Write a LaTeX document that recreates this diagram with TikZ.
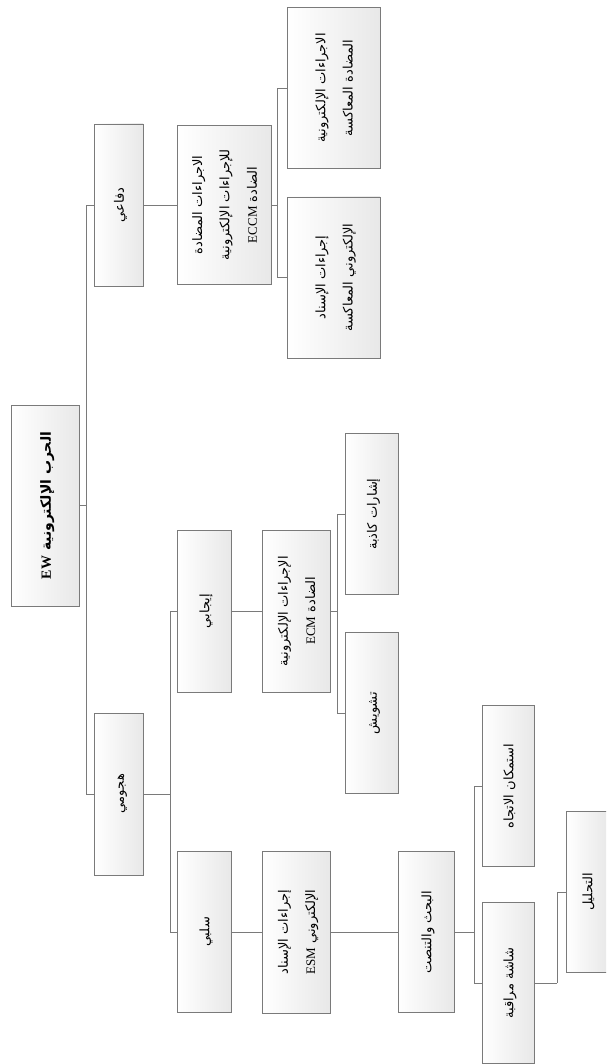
\documentclass[tikz,border=0pt]{standalone}
\usepackage{fontspec}
\usepackage{graphicx}
\usepackage{tikz}
\usetikzlibrary{positioning}
\TeXXeTstate=1
\newfontfamily\arabicfont[Script=Arabic]{DejaVu Sans}
\newfontfamily\latinfont{Liberation Serif}
\definecolor{bordo}{RGB}{122,122,122}
\definecolor{sfondo}{RGB}{232,232,232}
\renewcommand{\arraystretch}{1.75}
\newcommand{\ar}[1]{{\arabicfont\beginR #1\endR}}
\newcommand{\lat}[1]{\beginL{\latinfont #1}\endL}
\newcommand{\colonna}[1]{\rotatebox{90}{\begin{tabular}{@{}c@{}}#1\end{tabular}}}

\begin{document}
\begin{tikzpicture}[x=1pt, y=-1pt,
	box/.style={rectangle, draw=bordo, line width=0.9pt, left color=white, right color=sfondo, inner sep=0pt, font=\fontsize{13}{15.6}\selectfont},
	conn/.style={draw=bordo, line width=0.9pt}]
	\useasboundingbox (0,0) rectangle (606,1064);
	\clip (0,0) rectangle (606,1064);

	% Radice
	\node[box, minimum width=68, minimum height=201, font=\fontsize{14}{16.8}\selectfont\bfseries] (radice) at (45,505.5) {\colonna{\ar{الحرب الإلكترونية \lat{EW}}}};

	% Primo livello
	\node[box, minimum width=49, minimum height=162] (difensivo) at (118.5,205) {\colonna{\ar{دفاعي}}};
	\node[box, minimum width=49, minimum height=162] (offensivo) at (118.5,794) {\colonna{\ar{هجومي}}};

	% Ramo difensivo
	\node[box, minimum width=94, minimum height=159] (eccm) at (224,205) {\colonna{\ar{الاجراءات المضادة}\\ \ar{للإجراءات الإلكترونية}\\ \ar{الضادة \lat{ECCM}}}};
	\node[box, minimum width=93, minimum height=161] (contrasto) at (333.5,88) {\colonna{\ar{الاجراءات الإلكترونية}\\ \ar{المضادة المعاكسة}}};
	\node[box, minimum width=93, minimum height=161] (supporto) at (333.5,277.5) {\colonna{\ar{إجراءات الإسناد}\\ \ar{الإلكتروني المعاكسة}}};

	% Ramo offensivo
	\node[box, minimum width=54, minimum height=162] (attivo) at (204,611) {\colonna{\ar{إيجابي}}};
	\node[box, minimum width=54, minimum height=161] (passivo) at (204,932) {\colonna{\ar{سلبي}}};
	\node[box, minimum width=68, minimum height=162] (ecm) at (296,611) {\colonna{\ar{الإجراءات الإلكترونية}\\ \ar{الضادة \lat{ECM}}}};
	\node[box, minimum width=53, minimum height=161] (falsi) at (371.5,514) {\colonna{\ar{إشارات كاذبة}}};
	\node[box, minimum width=53, minimum height=161] (disturbo) at (371.5,713) {\colonna{\ar{تشويش}}};
	\node[box, minimum width=68, minimum height=162] (esm) at (296,932) {\colonna{\ar{إجراءات الإسناد}\\ \ar{الإلكتروني \lat{ESM}}}};
	\node[box, minimum width=56, minimum height=161] (ricerca) at (426,932) {\colonna{\ar{البحث والتنصت}}};
	\node[box, minimum width=52, minimum height=161] (direzione) at (508,786) {\colonna{\ar{استمكان الاتجاه}}};
	\node[box, minimum width=52, minimum height=161] (schermo) at (508,983) {\colonna{\ar{شاشة مراقبة}}};
	\node[box, minimum width=42, minimum height=161] (analisi) at (587,892) {\colonna{\ar{التحليل}}};

	% Collegamenti
	\draw[conn] (radice.east) -- ++(7,0) coordinate (n1);
	\draw[conn] (n1) |- (difensivo.west);
	\draw[conn] (n1) |- (offensivo.west);
	\draw[conn] (difensivo.east) -- (eccm.west);
	\draw[conn] (eccm.east) -- ++(6,0) coordinate (n2);
	\draw[conn] (n2) |- (contrasto.west);
	\draw[conn] (n2) |- (supporto.west);
	\draw[conn] (offensivo.east) -- ++(27,0) coordinate (n3);
	\draw[conn] (n3) |- (attivo.west);
	\draw[conn] (n3) |- (passivo.west);
	\draw[conn] (attivo.east) -- (ecm.west);
	\draw[conn] (ecm.east) -- ++(7,0) coordinate (n4);
	\draw[conn] (n4) |- (falsi.west);
	\draw[conn] (n4) |- (disturbo.west);
	\draw[conn] (passivo.east) -- (esm.west);
	\draw[conn] (esm.east) -- (ricerca.west);
	\draw[conn] (ricerca.east) -- ++(20,0) coordinate (n5);
	\draw[conn] (n5) |- (direzione.west);
	\draw[conn] (n5) |- (schermo.west);
	\draw[conn] (schermo.east) -- ++(23,0) coordinate (n6);
	\draw[conn] (n6) |- (analisi.west);
\end{tikzpicture}
\end{document}
